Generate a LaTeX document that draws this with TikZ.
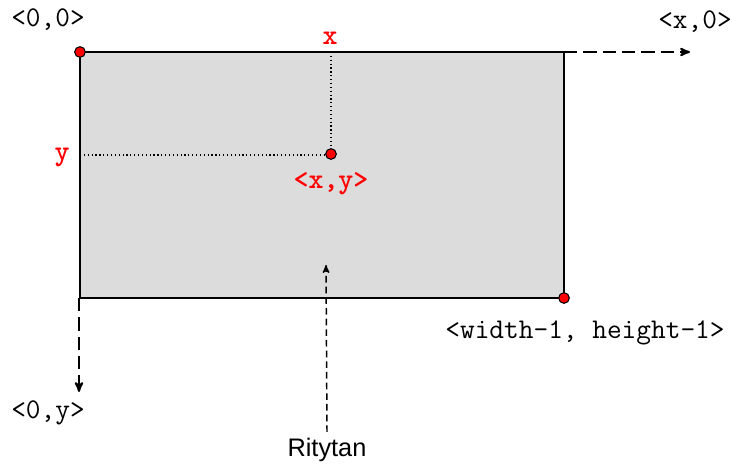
\documentclass[tikz,border=0pt]{standalone}
\usepackage{fontspec}
\setmainfont{Liberation Sans}
\usepackage{tikz}
\usetikzlibrary{arrows,positioning,calc}
\definecolor{pixfill}{HTML}{DCDCDC}
\definecolor{pixred}{HTML}{FF0000}
\tikzset{
  coordlbl/.style={font=\ttfamily\fontsize{21.4}{23}\selectfont, inner sep=0pt},
  redlbl/.style={font=\ttfamily\bfseries\fontsize{21.4}{23}\selectfont, text=pixred, inner sep=0pt},
  pixdot/.style={circle, draw=black, fill=pixred, line width=0.8pt, minimum size=8pt, inner sep=0pt},
  axisarrow/.style={->, >=stealth', line width=1.5pt, dash pattern=on 10pt off 4.5pt},
}

\begin{document}
\begin{tikzpicture}[x=0.75pt,y=-0.75pt]
      \useasboundingbox (0,0) rectangle (732,464);

      % image area
      \draw[draw=black, fill=pixfill, line width=1.5pt] (80,52) rectangle (564,298);
      \coordinate (tl) at (80,52);
      \coordinate (tr) at (564,52);
      \coordinate (bl) at (79,298);
      \coordinate (xtop) at (331,52);
      \coordinate (yleft) at (80,155);
      \coordinate (xend) at (690,52);
      \coordinate (yend) at (79,392);
      \coordinate (tip) at (326,265);

      % guide lines to the pixel
      \draw[dotted, line width=0.9pt] (xtop) -- (331,154);
      \draw[dotted, line width=0.9pt] (yleft) -- (331,155);

      % axes
      \draw[axisarrow] (tr) -- (xend);
      \draw[axisarrow] (bl) -- (yend);

      % corner and pixel dots
      \node[pixdot] (origin) at (80,52) {};
      \node[pixdot] (corner) at (564,298) {};
      \node[pixdot] (pixel) at (331,154) {};

      % labels
      \node[coordlbl] (lorigin) at (48,20) {<0,0>};
      \node[coordlbl] (lxaxis) at (695,22) {<x,0>};
      \node[coordlbl] (lyaxis) at (48,413) {<0,y>};
      \node[coordlbl] (lcorner) at (585,333) {<width-1, height-1>};
      \node[redlbl] (lx) at (330,38) {x};
      \node[redlbl] (ly) at (62,157) {y};
      \node[redlbl] (lpixel) at (331,184) {<x,y>};

      \node[font=\fontsize{19}{21}\selectfont, inner sep=0pt] (caption) at (327,450) {Ritytan};
      \draw[->, >=stealth', line width=1.1pt, dash pattern=on 5pt off 3pt] (caption.north) ++(0,-6) -- (tip);
    \end{tikzpicture}
\end{document}
